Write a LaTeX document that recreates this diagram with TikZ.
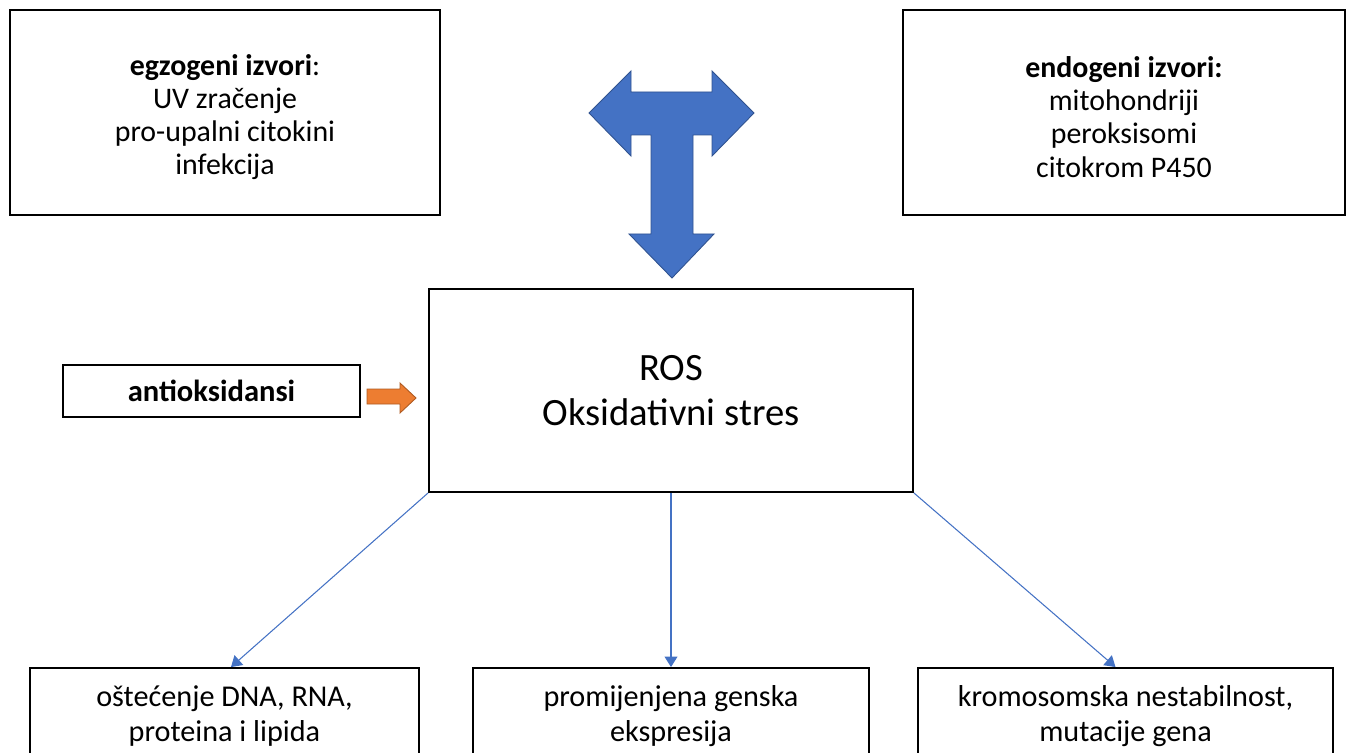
\documentclass[tikz,border=0pt]{standalone}
\usepackage{fontspec}
\setmainfont{Carlito}
\usetikzlibrary{arrows.meta}
\definecolor{blockblue}{RGB}{68,114,196}
\definecolor{blockedge}{RGB}{47,82,143}
\definecolor{antiorange}{RGB}{237,125,49}
\definecolor{orangeedge}{RGB}{174,90,33}

\begin{document}
\begin{tikzpicture}[x=0.02cm,y=-0.02cm,
    box/.style={draw, line width=1.1pt, align=center, inner sep=0pt},
    srcbox/.style={box, minimum height=4.1cm, font=\fontsize{17}{18.9}\selectfont},
    effbox/.style={box, minimum height=1.92cm, font=\fontsize{17.2}{19.5}\selectfont},
    effect/.style={draw=blockblue, line width=0.6pt, -{Triangle[width=7.4pt,length=6pt]}}]

    \useasboundingbox (0,0) rectangle (1346,753);
    \clip (0,0) rectangle (1346,753);

    \node[srcbox, minimum width=8.6cm] (egz) at (225,112.5)
        {\rule{0pt}{17pt}\textbf{egzogeni izvori}:\\UV zračenje\\pro-upalni citokini\\infekcija};
    \node[srcbox, minimum width=8.84cm] (endo) at (1124,112.5)
        {\rule{0pt}{17pt}\textbf{endogeni izvori:}\\mitohondriji\\peroksisomi\\citokrom P450};

    \node[box, minimum width=9.68cm, minimum height=4.06cm,
          font=\fontsize{22}{26}\selectfont] (ros) at (671,390.5)
        {ROS\\Oksidativni stres};

    \node[box, minimum width=5.94cm, minimum height=1.04cm,
          font=\fontsize{17.4}{19}\selectfont\bfseries] (anti) at (211.5,391) {antioksidansi};

    \node[effbox, minimum width=7.78cm] (dmg) at (224.5,716) {oštećenje DNA, RNA,\\proteina i lipida};
    \node[effbox, minimum width=7.92cm] (gene) at (671,716) {promijenjena genska\\ekspresija};
    \node[effbox, minimum width=8.3cm] (mut) at (1125.5,716) {kromosomska nestabilnost,\\mutacije gena};

    % sources
    \filldraw[fill=blockblue, draw=blockedge, line width=0.5pt]
        (589,113) -- (631,71) -- (631,92) -- (712,92) -- (712,71) -- (754,113)
        -- (712,156) -- (712,135) -- (693,135) -- (693,234) -- (714,234)
        -- (672,278) -- (629,234) -- (651,234) -- (651,135) -- (631,135)
        -- (631,156) -- cycle;

    \filldraw[fill=antiorange, draw=orangeedge, line width=0.5pt]
        (367,389) -- (400,389) -- (400,383) -- (416,398) -- (400,413)
        -- (400,404) -- (367,404) -- cycle;

    % effects
    \draw[effect] (ros.south west) -- ([xshift=0.13cm]dmg.north);
    \draw[effect] (ros.south) -- (gene.north);
    \draw[effect] (ros.south east) -- ([xshift=-0.2cm]mut.north);

\end{tikzpicture}
\end{document}
